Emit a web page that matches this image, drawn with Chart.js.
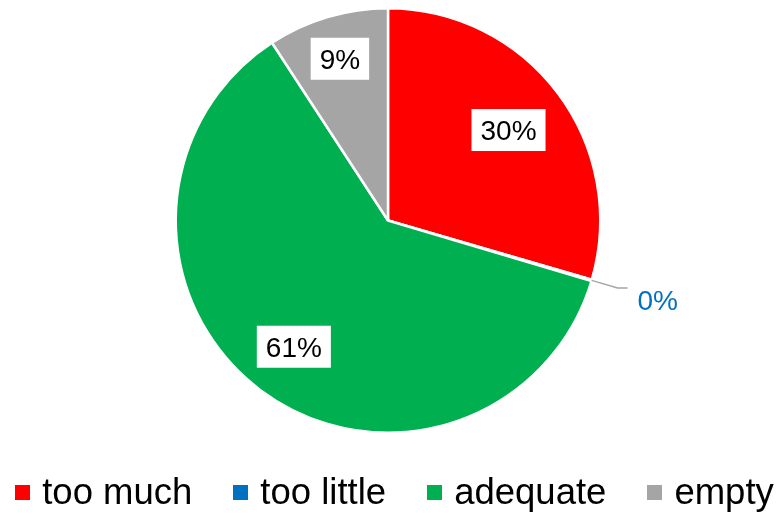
<!DOCTYPE html>
<html>
<head>
<meta charset="utf-8">
<script src="https://cdn.jsdelivr.net/npm/chart.js@4"></script>
<style>
  html, body { margin: 0; padding: 0; background: #fff; }
  #wrap { position: relative; width: 777px; height: 513px; }
  #leyenda {
    position: absolute; left: 0; top: 471px; width: 777px;
    display: flex; justify-content: center; padding-left: 12px; box-sizing: border-box;
    font-family: 'Liberation Sans', Arial, sans-serif; font-size: 36.5px; line-height: 41px; color: #000;
  }
  #leyenda .item { display: flex; align-items: center; margin-right: 41px; }
  #leyenda .item:last-child { margin-right: 0; }
  #leyenda .caja { width: 15px; height: 15px; margin-right: 12px; margin-top: 2px; }
</style>
</head>
<body>
<div id="wrap">
  <canvas id="grafico" width="777" height="513"></canvas>
  <div id="leyenda"></div>
</div>
<script>
// datos
const categorias = ['too much', 'too little', 'adequate', 'empty']
const valores = [29.5, 0.1, 61.2, 9.2]
const colores = ['#FF0000', '#0070C0', '#00B050', '#A5A5A5']

const fuente = "'Liberation Sans', Arial, sans-serif"

// etiquetas de porcentaje (cajas blancas dentro, línea guía fuera si es muy chico)
const etiquetas = {
  id: 'etiquetas',
  afterDatasetsDraw(chart, args, opts) {
    const ctx = chart.ctx
    const meta = chart.getDatasetMeta(0)
    const total = valores.reduce((a, b) => a + b, 0)
    ctx.save()
    ctx.font = `28px ${fuente}`
    meta.data.forEach((arco, i) => {
      const pct = Math.round(valores[i] / total * 100)
      const texto = pct + '%'
      const {x, y, startAngle, endAngle, outerRadius} = arco.getProps(['x', 'y', 'startAngle', 'endAngle', 'outerRadius'], true)
      const medio = (startAngle + endAngle) / 2
      const cos = Math.cos(medio), sin = Math.sin(medio)
      const w = ctx.measureText(texto).width

      if (pct < 1) {
        // fuera, con línea guía
        const x1 = x + cos * outerRadius, y1 = y + sin * outerRadius
        const x2 = x + cos * (outerRadius + 27), y2 = y + sin * (outerRadius + 27)
        ctx.strokeStyle = '#A6A6A6'
        ctx.lineWidth = 1.5
        ctx.beginPath()
        ctx.moveTo(x1, y1)
        ctx.lineTo(x2, y2)
        ctx.lineTo(x2 + 10, y2)
        ctx.stroke()
        ctx.fillStyle = colores[i]
        ctx.textAlign = 'left'
        ctx.textBaseline = 'alphabetic'
        ctx.fillText(texto, x2 + 20, y2 + 22)
        return
      }

      const r = outerRadius * (opts.radios[i] || 0.75)
      const cx = x + cos * r, cy = y + sin * r
      const bw = w + 18, bh = 42
      ctx.fillStyle = '#FFFFFF'
      ctx.fillRect(cx - bw / 2, cy - bh / 2, bw, bh)
      ctx.fillStyle = '#000000'
      ctx.textAlign = 'center'
      ctx.textBaseline = 'alphabetic'
      ctx.fillText(texto, cx, cy + 10)
    })
    ctx.restore()
  }
}

new Chart(document.querySelector('#grafico'), {
  type: 'pie',
  data: {
    labels: categorias,
    datasets: [{
      data: valores,
      backgroundColor: colores,
      borderColor: '#FFFFFF',
      borderWidth: 2.5
    }]
  },
  options: {
    responsive: false,
    animation: false,
    layout: { padding: { top: 7, bottom: 79, left: 0, right: 1 } },
    plugins: {
      legend: { display: false },
      tooltip: { enabled: false },
      etiquetas: { radios: [0.71, 0.75, 0.742, 0.795] }
    }
  },
  plugins: [etiquetas]
})

// leyenda en HTML con los mismos colores
const leyenda = document.querySelector('#leyenda')
categorias.forEach((cat, i) => {
  const item = document.createElement('div')
  item.className = 'item'
  item.innerHTML = `<span class="caja" style="background:${colores[i]}"></span><span>${cat}</span>`
  leyenda.appendChild(item)
})
</script>
</body>
</html>
